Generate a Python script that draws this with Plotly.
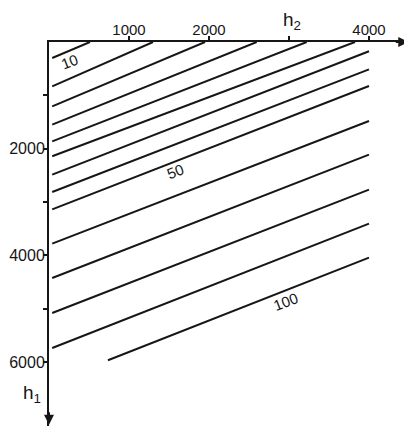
import plotly.graph_objects as go

# contour values and their end points (h2 = horizontal, h1 = vertical, downward)
values = [10, 15, 20, 25, 30, 35, 40, 45, 50, 60, 70, 80, 90, 100]
h2_start = [40, 40, 40, 40, 40, 40, 40, 40, 40, 40, 40, 40, 40, 737]
h1_start = [300, 831, 1206, 1549, 1862, 2143, 2486, 2813, 3137, 3780, 4425, 5081, 5738, 5968]
h2_end = [512, 1300, 1950, 2596, 3221, 3825, 4000, 4000, 4000, 4000, 4000, 4000, 4000, 4000]
h1_end = [0, 0, 0, 0, 0, 0, 174, 512, 825, 1481, 2111, 2768, 3405, 4043]

# labelled contours
label_text = ["10", "50", "100"]
label_h2 = [262, 1575, 2962]
label_h1 = [362, 2425, 4862]

x_tickvals = [1000, 2000, 4000]
x_ticktext = ["1000", "2000", "4000"]
x_minor = [3000]
y_tickvals = [2000, 4000, 6000]
y_ticktext = ["2000", "4000", "6000"]
y_minor = [1000, 3000, 5000]

INK = "#161616"
FONT = "Liberation Sans"

fig = go.Figure()
for v, xs, ys, xe, ye in zip(values, h2_start, h1_start, h2_end, h1_end):
    fig.add_trace(go.Scatter(x=[xs, xe], y=[ys, ye], mode="lines",
                             line=dict(color=INK, width=2),
                             name=str(v), showlegend=False, hoverinfo="skip"))

for t, x, y in zip(label_text, label_h2, label_h1):
    fig.add_annotation(x=x, y=y, text=t, showarrow=False, textangle=-21,
                       font=dict(family=FONT, size=15, color=INK))

# axis names
fig.add_annotation(x=3040, y=1, yref="paper", yshift=21, yanchor="middle",
                   text="h<sub>2</sub>", showarrow=False,
                   font=dict(family=FONT, size=19, color=INK))
fig.add_annotation(x=0, xref="x", xshift=-17, y=6600, yanchor="middle",
                   text="h<sub>1</sub>", showarrow=False,
                   font=dict(family=FONT, size=19, color=INK))

# arrowheads at axis ends
fig.add_annotation(x=0.998, y=1, xref="paper", yref="paper", ax=-14, ay=0,
                   text="", showarrow=True, arrowhead=2, arrowsize=1,
                   arrowwidth=2, arrowcolor=INK)
fig.add_annotation(x=0, y=0.003, xref="paper", yref="paper", ax=0, ay=-14,
                   text="", showarrow=True, arrowhead=2, arrowsize=1,
                   arrowwidth=2, arrowcolor=INK)

tick_common = dict(ticks="outside", ticklen=4, tickwidth=1.5, tickcolor=INK)

# the page body adds an 8px margin, so the figure is sized/offset to compensate
fig.update_layout(
    width=404, height=420,
    margin=dict(l=41, r=3, t=34, b=2),
    paper_bgcolor="white", plot_bgcolor="white",
    xaxis=dict(range=[0, 4500], side="top", showgrid=False, zeroline=False,
               automargin=False,
               showline=True, linewidth=2, linecolor=INK,
               tickmode="array", tickvals=x_tickvals, ticktext=x_ticktext,
               tickfont=dict(family=FONT, size=15, color=INK),
               ticklabelstandoff=-5,
               minor=dict(tickmode="array", tickvals=x_minor, **tick_common),
               **tick_common),
    yaxis=dict(range=[7200, 0], showgrid=False, zeroline=False,
               automargin=False,
               showline=True, linewidth=2, linecolor=INK,
               tickmode="array", tickvals=y_tickvals, ticktext=y_ticktext,
               tickfont=dict(family=FONT, size=16, color=INK),
               ticklabelstandoff=-5,
               minor=dict(tickmode="array", tickvals=y_minor, **tick_common),
               **tick_common),
)

fig.write_html("out.html")
